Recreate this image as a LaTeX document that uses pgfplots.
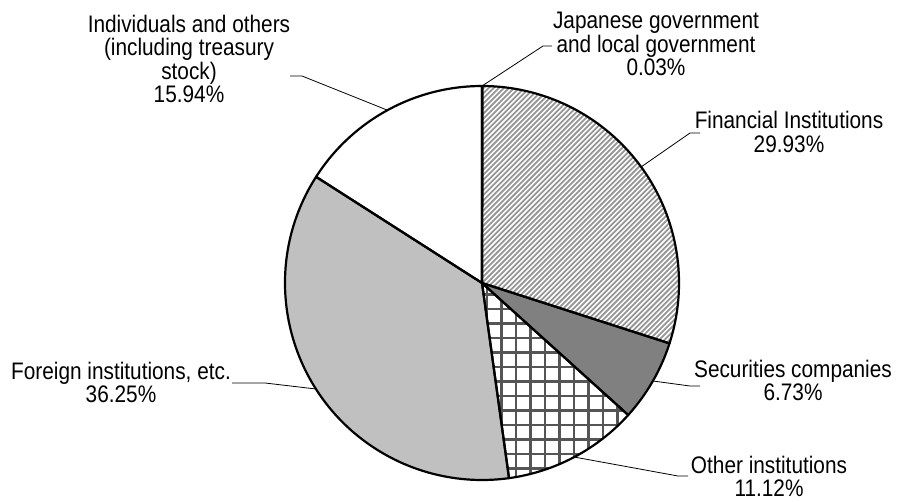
\documentclass[border=0pt]{standalone}
\usepackage{pgfplots}
\pgfplotsset{compat=1.18}
\usepackage{fontspec}
\setmainfont{Liberation Sans}[FakeStretch=0.87]
\usetikzlibrary{calc}
\definecolor{secgray}{RGB}{128,128,128}
\definecolor{forgray}{RGB}{192,192,192}
\definecolor{stripe}{RGB}{150,150,150}
\definecolor{gridc}{RGB}{85,85,85}
\tikzset{lbl/.style={align=center, anchor=center, inner sep=0pt, font=\fontsize{24}{23.5}\selectfont}}
% shares in percent, clockwise from 12 o'clock
\def\pJ{0.03}\def\pF{29.93}\def\pS{6.73}\def\pO{11.12}\def\pFo{36.25}\def\pI{15.94}
\pgfmathsetmacro\aA{90}
\pgfmathsetmacro\aB{\aA-3.6*\pJ}
\pgfmathsetmacro\aC{\aB-3.6*\pF}
\pgfmathsetmacro\aD{\aC-3.6*\pS}
\pgfmathsetmacro\aE{\aD-3.6*\pO}
\pgfmathsetmacro\aF{\aE-3.6*\pFo}
\pgfmathsetmacro\aG{\aF-3.6*\pI}
\def\R{197bp}
\newcommand{\slice}[2]{(axis cs:482,283) -- ++(#1:\R) arc[start angle=#1, end angle=#2, radius=\R] -- cycle}
\begin{document}
\begin{tikzpicture}
\begin{axis}[
  width=899bp, height=502bp, scale only axis,
  xmin=0, xmax=899, ymin=0, ymax=502, y dir=reverse,
  hide axis, clip=false
]
\addplot[draw=none] coordinates {(0,0) (899,502)};
\coordinate (C) at (axis cs:482,283);
% fills
\fill[secgray] \slice{\aB}{\aA};
\begin{scope}
  \clip \slice{\aC}{\aB};
  \pgfplotsinvokeforeach{-60,...,60}{
    \draw[stripe, line width=1.8bp] ($(C)+(-45:#1*3.6bp)+(225:220bp)$) -- ++(45:440bp);
  }
\end{scope}
\fill[secgray] \slice{\aD}{\aC};
\fill[white] \slice{\aE}{\aD};
\begin{scope}
  \clip \slice{\aE}{\aD};
  \pgfplotsinvokeforeach{-14,...,14}{
    \draw[gridc, line width=2.4bp] ($(C)+(#1*14.5bp+5bp,-210bp)$) -- ++(0,420bp);
    \draw[gridc, line width=2.4bp] ($(C)+(-210bp,#1*14.5bp+3bp)$) -- ++(420bp,0);
  }
\end{scope}
\fill[forgray] \slice{\aF}{\aE};
\fill[white] \slice{\aG}{\aF};
% borders
\draw[black, line width=2.2bp, line join=round] \slice{\aB}{\aA};
\draw[black, line width=2.2bp, line join=round] \slice{\aC}{\aB};
\draw[black, line width=2.2bp, line join=round] \slice{\aD}{\aC};
\draw[black, line width=2.2bp, line join=round] \slice{\aE}{\aD};
\draw[black, line width=2.2bp, line join=round] \slice{\aF}{\aE};
\draw[black, line width=2.2bp, line join=round] \slice{\aG}{\aF};
% leader lines
\draw[black, line width=0.8bp] (axis cs:482,86) -- (axis cs:543,46) -- (axis cs:552,46);
\draw[black, line width=0.8bp] (axis cs:641,167) -- (axis cs:690,133) -- (axis cs:700,133);
\draw[black, line width=0.8bp] (axis cs:653,381) -- (axis cs:690,386) -- (axis cs:700,386);
\draw[black, line width=0.8bp] (axis cs:574,457) -- (axis cs:678,476) -- (axis cs:688,476);
\draw[black, line width=0.8bp] (axis cs:316,389) -- (axis cs:265,383) -- (axis cs:232,383);
\draw[black, line width=0.8bp] (axis cs:387,110) -- (axis cs:302,76) -- (axis cs:290,76);
% labels
\node[lbl] at (axis cs:656,44) {Japanese government\\and local government\\0.03\%};
\node[lbl] at (axis cs:789,132) {Financial Institutions\\29.93\%};
\node[lbl] at (axis cs:793,380.5) {Securities companies\\6.73\%};
\node[lbl] at (axis cs:769,476.5) {Other institutions\\11.12\%};
\node[lbl] at (axis cs:121,382.5) {Foreign institutions, etc.\\36.25\%};
\node[lbl] at (axis cs:189,59) {Individuals and others\\(including treasury\\stock)\\15.94\%};
\end{axis}
\end{tikzpicture}
\end{document}
